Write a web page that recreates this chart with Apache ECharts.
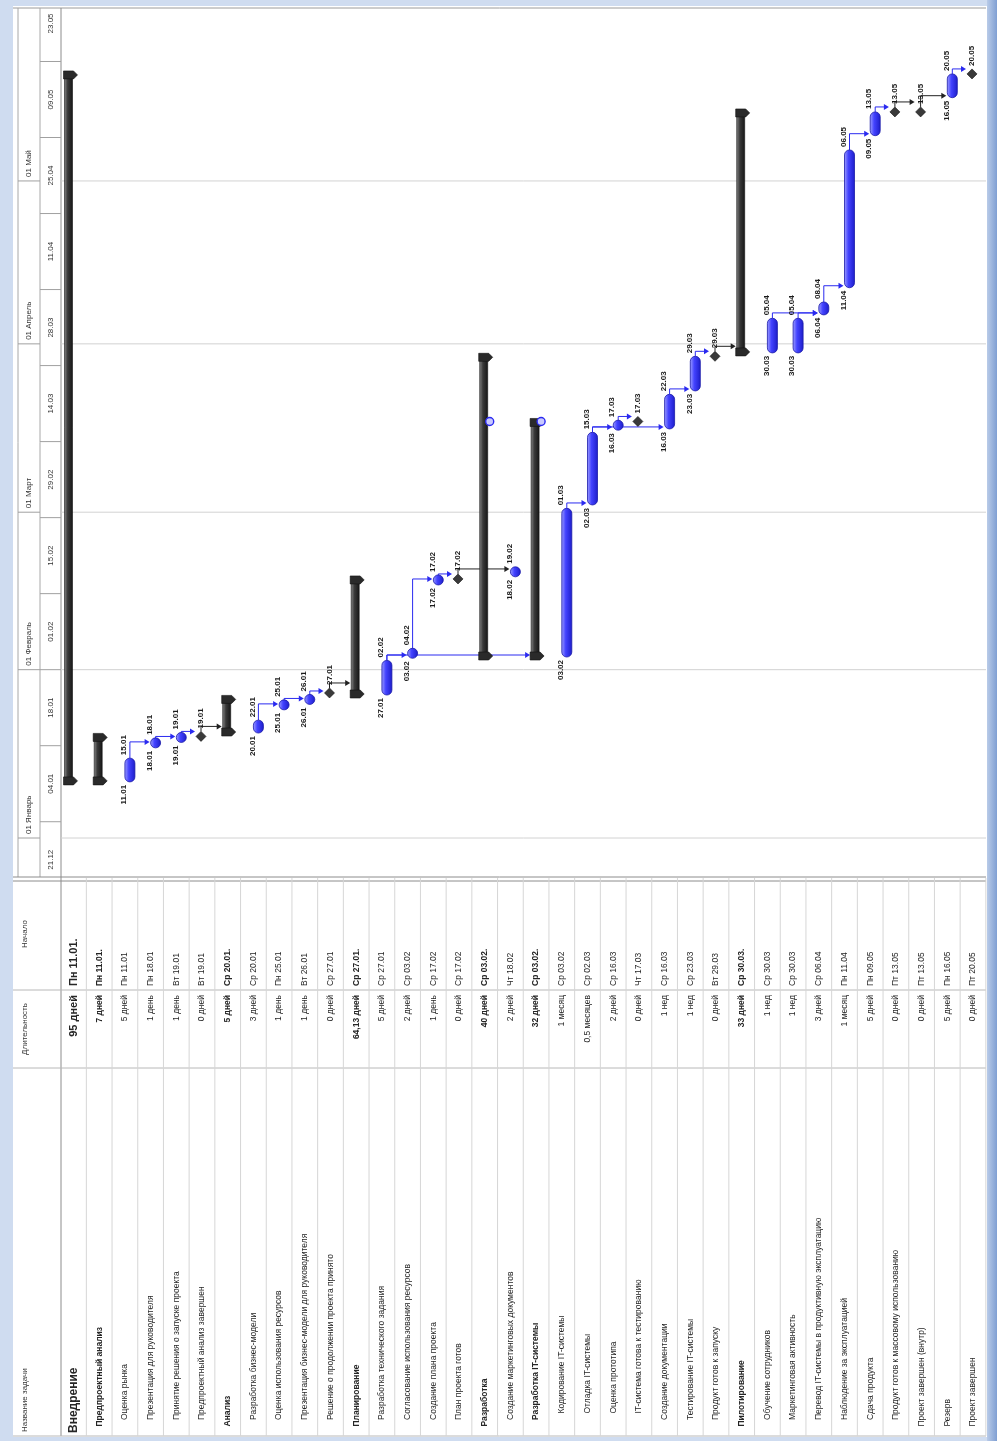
<!DOCTYPE html>
<html>
<head>
<meta charset="utf-8">
<script src="https://cdn.jsdelivr.net/npm/echarts@6/dist/echarts.min.js"></script>
<style>
  html, body { margin: 0; padding: 0; background: #cfdcf0; }
  #chart { width: 997px; height: 1441px; }
</style>
</head>
<body>
<div id="chart"></div>
<script>
// ---- project plan (rows are drawn left to right, time runs bottom to top) ----
const taskNames = [
  'Внедрение', 'Предпроектный анализ', 'Оценка рынка', 'Презентация для руководителя',
  'Принятие решения о запуске проекта', 'Предпроектный анализ завершен', 'Анализ',
  'Разработка бизнес-модели', 'Оценка использования ресурсов',
  'Презентация бизнес-модели для руководителя', 'Решение о продолжении проекта принято',
  'Планирование', 'Разработка технического задания', 'Согласование использования ресурсов',
  'Создание плана проекта', 'План проекта готов', 'Разработка',
  'Создание маркетинговых документов', 'Разработка IT-системы', 'Кодирование IT-системы',
  'Отладка IT-системы', 'Оценка прототипа', 'IT-система готова к тестированию',
  'Создание документации', 'Тестирование IT-системы', 'Продукт готов к запуску',
  'Пилотирование', 'Обучение сотрудников', 'Маркетинговая активность',
  'Перевод IT-системы в продуктивную эксплуатацию', 'Наблюдение за эксплуатацией',
  'Сдача продукта', 'Продукт готов к массовому использованию', 'Проект завершен (внутр)',
  'Резерв', 'Проект завершен'
];
const taskLevels = [0,1,2,2,2,2,1,2,2,2,2,1,2,2,2,2,1,2,2,3,3,3,3,2,2,2,1,2,2,2,2,2,2,1,1,1];
const taskKinds = [
  'summary','summary','task','task','task','milestone','summary','task','task','task','milestone',
  'summary','task','task','task','milestone','summary','task','summary','task','task','task',
  'milestone','task','task','milestone','summary','task','task','task','task','task','milestone',
  'milestone','task','milestone'
];
const durationTexts = [
  '95 дней','7 дней','5 дней','1 день','1 день','0 дней','5 дней','3 дней','1 день','1 день',
  '0 дней','64,13 дней','5 дней','2 дней','1 день','0 дней','40 дней','2 дней','32 дней',
  '1 месяц','0,5 месяцев','2 дней','0 дней','1 нед','1 нед','0 дней','33 дней','1 нед','1 нед',
  '3 дней','1 месяц','5 дней','0 дней','0 дней','5 дней','0 дней'
];
const startTexts = [
  'Пн 11.01.','Пн 11.01.','Пн 11.01','Пн 18.01','Вт 19.01','Вт 19.01','Ср 20.01.','Ср 20.01',
  'Пн 25.01','Вт 26.01','Ср 27.01','Ср 27.01.','Ср 27.01','Ср 03.02','Ср 17.02','Ср 17.02',
  'Ср 03.02.','Чт 18.02','Ср 03.02.','Ср 03.02','Ср 02.03','Ср 16.03','Чт 17.03','Ср 16.03',
  'Ср 23.03','Вт 29.03','Ср 30.03.','Ср 30.03','Ср 30.03','Ср 06.04','Пн 11.04','Пн 09.05',
  'Пт 13.05','Пт 13.05','Пн 16.05','Пт 20.05'
];
const barStart = [
  '11.01','11.01','11.01','18.01','19.01','19.01','20.01','20.01','25.01','26.01','27.01',
  '27.01','27.01','03.02','17.02','17.02','03.02','18.02','03.02','03.02','02.03','16.03',
  '17.03','16.03','23.03','29.03','30.03','30.03','30.03','06.04','11.04','09.05','13.05',
  '13.05','16.05','20.05'
];
const barFinish = [
  '20.05','19.01','15.01','18.01','19.01','19.01','26.01','22.01','25.01','26.01','27.01',
  '17.02','02.02','04.02','17.02','17.02','29.03','19.02','17.03','01.03','15.03','17.03',
  '17.03','22.03','29.03','29.03','13.05','05.04','05.04','08.04','06.05','13.05','13.05',
  '13.05','20.05','20.05'
];
// finish-to-start links: [predecessor row, successor row]
const taskLinks = [
  [2,3],[3,4],[4,5],[5,6],[7,8],[8,9],[9,10],[10,11],[12,13],[12,18],[13,14],[14,15],
  [15,17],[19,20],[20,21],[20,23],[21,22],[23,24],[24,25],[25,26],[27,29],[28,29],
  [29,30],[30,31],[31,32],[32,33],[33,34],[34,35]
];
const deadlineRows = [16, 18];
const deadlineDates = ['17.03', '17.03'];

// ---- timescale ----
const monthStarts = ['01.01','01.02','01.03','01.04','01.05'];
const monthLabels = ['01 Январь','01 Февраль','01 Март','01 Апрель','01 Май'];
const weekLabels = ['21.12','04.01','18.01','01.02','15.02','29.02','14.03','28.03','11.04','25.04','09.05','23.05'];
const columnTitles = ['Название задачи', 'Длительность', 'Начало'];

// ---- helpers ----
const DAY0 = Date.UTC(2016, 0, 1);
function dayOf(s) {
  const parts = s.split('.').map(Number);
  const year = parts[1] === 12 ? 2015 : 2016;
  return (Date.UTC(year, parts[1] - 1, parts[0]) - DAY0) / 86400000;
}
const WORK_START = 8 / 24, WORK_END = 17 / 24;
const FONT = 'Liberation Sans';
const TABLE = { top: 878, startEdge: 990, durEdge: 1068, bottom: 1436, head: 13, headEnd: 61 };
const GANTT = { top: 8, bottom: 877, right: 986 };

function rowX(api, i) { return api.coord([i + 0.5, 0])[0]; }
function yAt(api, d) { return api.coord([0, d])[1]; }
function vText(x, y, text, opt) {
  return {
    type: 'text', x: x, y: y, rotation: Math.PI / 2,
    style: Object.assign({
      text: text, fill: '#222', fontFamily: FONT, fontSize: 8,
      align: 'left', verticalAlign: 'middle'
    }, opt || {})
  };
}
function geom(api, i) {
  const cx = rowX(api, i);
  const kind = taskKinds[i];
  const ys = yAt(api, dayOf(barStart[i]) + WORK_START);
  const ye = yAt(api, dayOf(barFinish[i]) + WORK_END);
  if (kind === 'task') return { kind, cx, x: cx + 5, ys, ye, hw: 5 };
  if (kind === 'summary') return { kind, cx, x: cx - (i === 0 ? 5 : 1), ys, ye, hw: 4 };
  return { kind, cx, x: cx - 1, ym: ye, hw: 5 };
}

const blueFill = new echarts.graphic.LinearGradient(0, 0, 1, 0, [
  { offset: 0, color: '#a3a3ff' }, { offset: 0.4, color: '#4343ff' }, { offset: 1, color: '#1c1cc8' }
]);
const darkFill = new echarts.graphic.LinearGradient(0, 0, 1, 0, [
  { offset: 0, color: '#8a8a8a' }, { offset: 0.4, color: '#3a3a3a' }, { offset: 1, color: '#151515' }
]);

function renderTask(params, api) {
  const i = params.dataIndex;
  const g = geom(api, i);
  const children = [];
  const lab = { fontWeight: 'bold', fontSize: 8, fill: '#1a1a1a' };
  if (g.kind === 'task') {
    let top = g.ye, bot = g.ys;
    const w = g.hw * 2;
    if (bot - top < w) { const m = (top + bot) / 2; top = m - w / 2; bot = m + w / 2; }
    children.push({
      type: 'rect', shape: { x: g.x - g.hw, y: top, width: w, height: bot - top, r: g.hw },
      style: { fill: blueFill, stroke: '#1a1aa8', lineWidth: 0.8 }
    });
    children.push(vText(g.cx - 1, bot + 3, barStart[i], Object.assign({ align: 'right' }, lab)));
    children.push(vText(g.cx - 1, top - 3, barFinish[i], lab));
  } else if (g.kind === 'summary') {
    const xl = g.x - g.hw, xr = g.x + g.hw;
    children.push({
      type: 'rect', shape: { x: xl, y: g.ye, width: xr - xl, height: g.ys - g.ye },
      style: { fill: darkFill, stroke: '#111', lineWidth: 0.6 }
    });
    [g.ys - 1, g.ye + 1].forEach(function (yc) {
      children.push({
        type: 'polygon',
        shape: { points: [[xl - 1, yc - 4], [xr + 1, yc - 4], [xr + 5, yc], [xr + 1, yc + 4], [xl - 1, yc + 4]] },
        style: { fill: '#2a2a2a', stroke: '#111', lineWidth: 0.6 }
      });
    });
  } else {
    children.push({
      type: 'polygon',
      shape: { points: [[g.x, g.ym - g.hw], [g.x + g.hw, g.ym], [g.x, g.ym + g.hw], [g.x - g.hw, g.ym]] },
      style: { fill: '#3a3a3a', stroke: '#111', lineWidth: 0.6 }
    });
    children.push(vText(g.x, g.ym - g.hw - 3, barFinish[i], lab));
  }
  return { type: 'group', children: children };
}

function renderLink(params, api) {
  const pair = taskLinks[params.dataIndex];
  const a = geom(api, pair[0]), b = geom(api, pair[1]);
  const y0 = a.kind === 'milestone' ? a.ym - a.hw : a.ye;
  const yS = b.kind === 'milestone' ? b.ym : b.ys;
  const yT = Math.min(y0 - 5, yS - 2);
  const xEnd = b.x - b.hw - 1;
  const color = a.kind === 'milestone' ? '#222' : '#2a2af0';
  return {
    type: 'group', children: [
      { type: 'polyline', shape: { points: [[a.x, y0], [a.x, yT], [xEnd - 4, yT]] },
        style: { stroke: color, lineWidth: 1, fill: null } },
      { type: 'polygon', shape: { points: [[xEnd - 5, yT - 3], [xEnd, yT], [xEnd - 5, yT + 3]] },
        style: { fill: color } }
    ]
  };
}

function renderDeadline(params, api) {
  const k = params.dataIndex;
  const g = geom(api, deadlineRows[k]);
  const y = yAt(api, dayOf(deadlineDates[k]) + WORK_END);
  return {
    type: 'circle', shape: { cx: g.x + 6, cy: y, r: 4 },
    style: { fill: '#c8c8ff', stroke: '#2a2af0', lineWidth: 1.4 }
  };
}

function renderMonth(params, api) {
  const k = params.dataIndex;
  const y = yAt(api, dayOf(monthStarts[k]));
  return {
    type: 'group', children: [
      { type: 'line', shape: { x1: 61, y1: y, x2: GANTT.right, y2: y }, style: { stroke: '#d2d2d2', lineWidth: 1 } },
      { type: 'line', shape: { x1: 18, y1: y, x2: 40, y2: y }, style: { stroke: '#a0a0a0', lineWidth: 1 } },
      vText(29, y - 4, monthLabels[k], { fontSize: 8, fill: '#333' })
    ]
  };
}

function renderWeek(params, api) {
  const k = params.dataIndex;
  const d = dayOf(weekLabels[k]);
  const y = yAt(api, d);
  const yc = yAt(api, d + 7);
  const children = [vText(51, yc, weekLabels[k], { fontSize: 8, fill: '#333', align: 'center' })];
  if (y < GANTT.bottom) {
    children.push({ type: 'line', shape: { x1: 40, y1: y, x2: 61, y2: y }, style: { stroke: '#a0a0a0', lineWidth: 1 } });
  }
  return { type: 'group', children: children };
}

function renderRow(params, api) {
  const i = params.dataIndex;
  const cx = rowX(api, i);
  const edge = api.coord([i + 1, 0])[0];
  const isSummary = taskKinds[i] === 'summary';
  const top = i === 0;
  const textOpt = {
    fontSize: top ? 12 : 8.5,
    fontWeight: (isSummary || top) ? 'bold' : 'normal',
    fill: '#262626'
  };
  const numOpt = { fontSize: top ? 11 : 8.5, fontWeight: (isSummary || top) ? 'bold' : 'normal', fill: '#262626' };
  return {
    type: 'group', children: [
      { type: 'line', shape: { x1: edge, y1: TABLE.top, x2: edge, y2: TABLE.bottom },
        style: { stroke: '#d6d6d6', lineWidth: 1 } },
      vText(cx, TABLE.bottom - 3 - taskLevels[i] * 6.5, taskNames[i], textOpt),
      vText(cx, TABLE.startEdge + 5, durationTexts[i], Object.assign({ align: 'right' }, numOpt)),
      vText(cx, TABLE.startEdge - 4, startTexts[i], numOpt)
    ]
  };
}

function renderFrame(params, api) {
  const line = function (x1, y1, x2, y2, c, w) {
    return { type: 'line', shape: { x1, y1, x2, y2 }, style: { stroke: c || '#a8a8a8', lineWidth: w || 1 } };
  };
  return {
    type: 'group', children: [
      line(TABLE.head, GANTT.top, GANTT.right, GANTT.top, '#9a9a9a'),
      line(18, GANTT.top, 18, GANTT.bottom),
      line(40, GANTT.top, 40, GANTT.bottom),
      line(61, GANTT.top, 61, TABLE.bottom, '#8c8c8c'),
      line(TABLE.head, GANTT.bottom, GANTT.right, GANTT.bottom, '#8c8c8c'),
      line(TABLE.head, TABLE.top + 3, GANTT.right, TABLE.top + 3, '#8c8c8c'),
      line(TABLE.head, TABLE.startEdge, GANTT.right, TABLE.startEdge, '#b8b8b8'),
      line(TABLE.head, TABLE.durEdge, GANTT.right, TABLE.durEdge, '#b8b8b8'),
      line(TABLE.head, TABLE.bottom, GANTT.right, TABLE.bottom, '#b8b8b8'),
      vText(25, TABLE.bottom - 4, columnTitles[0], { fontSize: 8, fill: '#333' }),
      vText(25, (TABLE.startEdge + TABLE.durEdge) / 2, columnTitles[1], { fontSize: 8, fill: '#333', align: 'center' }),
      vText(25, (TABLE.top + TABLE.startEdge) / 2, columnTitles[2], { fontSize: 8, fill: '#333', align: 'center' })
    ]
  };
}

const rowData = taskNames.map(function (n, i) { return [i + 0.5, 0]; });
const chart = echarts.init(document.getElementById('chart'), null, { renderer: 'canvas' });
chart.setOption({
  backgroundColor: '#cfdcf0',
  animation: false,
  graphic: [
    { type: 'rect', left: 13, top: 6, shape: { width: 974, height: 1431 }, style: { fill: '#ffffff' }, z: -10 },
    { type: 'rect', left: 987, top: 0, shape: { width: 10, height: 1441 },
      style: { fill: new echarts.graphic.LinearGradient(0, 0, 1, 0, [{ offset: 0, color: '#b9cbe8' }, { offset: 1, color: '#7f9fd3' }]) }, z: -10 }
  ],
  grid: { left: 60.65, right: 11.15, top: 8, bottom: 564 },
  xAxis: { type: 'value', min: 0, max: 36, show: false },
  yAxis: { type: 'value', min: -7.18, max: 152.85, show: false },
  series: [
    { type: 'custom', clip: false, renderItem: renderFrame, data: [[0, 0]], z: 1 },
    { type: 'custom', clip: false, renderItem: renderMonth, data: monthStarts.map(function () { return [0, 0]; }), z: 2 },
    { type: 'custom', clip: false, renderItem: renderWeek, data: weekLabels.map(function () { return [0, 0]; }), z: 2 },
    { type: 'custom', clip: false, renderItem: renderRow, data: rowData, z: 3 },
    { type: 'custom', clip: false, renderItem: renderLink, data: taskLinks.map(function () { return [0, 0]; }), z: 4 },
    { type: 'custom', clip: false, renderItem: renderTask, data: rowData, z: 5 },
    { type: 'custom', clip: false, renderItem: renderDeadline, data: deadlineRows.map(function () { return [0, 0]; }), z: 6 }
  ]
});
</script>
</body>
</html>
